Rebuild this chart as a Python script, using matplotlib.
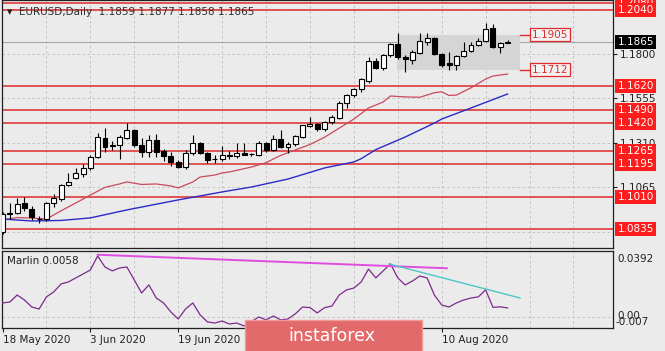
import numpy as np
import matplotlib
matplotlib.use("Agg")
import matplotlib.pyplot as plt
from matplotlib.patches import Rectangle

W, H = 665, 351

# daily EURUSD candles, 18 May 2020 .. 21 Aug 2020
opens = [1.0818, 1.0917, 1.0922, 1.0976, 1.0945, 1.0892, 1.0888, 1.0976, 1.1000, 1.1077,
         1.1118, 1.1135, 1.1171, 1.1231, 1.1336, 1.1290, 1.1297, 1.1336, 1.1380, 1.1297,
         1.1259, 1.1325, 1.1264, 1.1237, 1.1204, 1.1176, 1.1253, 1.1308, 1.1253, 1.1218,
         1.1220, 1.1243, 1.1234, 1.1253, 1.1246, 1.1242, 1.1308, 1.1270, 1.1330, 1.1286,
         1.1303, 1.1341, 1.1402, 1.1413, 1.1385, 1.1424, 1.1446, 1.1527, 1.1572, 1.1604,
         1.1650, 1.1758, 1.1720, 1.1793, 1.1851, 1.1780, 1.1765, 1.1804, 1.1866, 1.1885,
         1.1798, 1.1747, 1.1738, 1.1787, 1.1817, 1.1848, 1.1871, 1.1940, 1.1838, 1.1859]
highs = [1.0926, 1.0976, 1.1003, 1.1010, 1.0960, 1.0905, 1.0985, 1.1028, 1.1085, 1.1143,
         1.1170, 1.1195, 1.1240, 1.1363, 1.1391, 1.1320, 1.1355, 1.1418, 1.1385, 1.1336,
         1.1352, 1.1358, 1.1275, 1.1258, 1.1215, 1.1270, 1.1352, 1.1315, 1.1260, 1.1240,
         1.1292, 1.1265, 1.1308, 1.1308, 1.1255, 1.1318, 1.1316, 1.1352, 1.1380, 1.1315,
         1.1350, 1.1410, 1.1451, 1.1420, 1.1430, 1.1465, 1.1540, 1.1580, 1.1612, 1.1665,
         1.1781, 1.1778, 1.1800, 1.1860, 1.1912, 1.1790, 1.1820, 1.1911, 1.1916, 1.1890,
         1.1805, 1.1810, 1.1795, 1.1866, 1.1866, 1.1885, 1.1966, 1.1962, 1.1866, 1.1877]
lows = [1.0807, 1.0888, 1.0915, 1.0935, 1.0885, 1.0868, 1.0880, 1.0955, 1.0990, 1.1070,
        1.1110, 1.1120, 1.1160, 1.1225, 1.1260, 1.1270, 1.1220, 1.1330, 1.1285, 1.1231,
        1.1231, 1.1231, 1.1210, 1.1182, 1.1168, 1.1165, 1.1242, 1.1245, 1.1200, 1.1200,
        1.1210, 1.1220, 1.1225, 1.1240, 1.1235, 1.1235, 1.1260, 1.1262, 1.1280, 1.1253,
        1.1290, 1.1335, 1.1395, 1.1375, 1.1375, 1.1415, 1.1440, 1.1500, 1.1560, 1.1590,
        1.1640, 1.1715, 1.1710, 1.1780, 1.1769, 1.1700, 1.1743, 1.1798, 1.1848, 1.1795,
        1.1728, 1.1711, 1.1710, 1.1780, 1.1811, 1.1842, 1.1862, 1.1829, 1.1802, 1.1858]
closes = [1.0917, 1.0922, 1.0970, 1.0950, 1.0901, 1.0890, 1.0976, 1.1004, 1.1077, 1.1094,
          1.1143, 1.1171, 1.1231, 1.1341, 1.1286, 1.1297, 1.1341, 1.1380, 1.1297, 1.1259,
          1.1325, 1.1259, 1.1237, 1.1204, 1.1176, 1.1253, 1.1308, 1.1253, 1.1215, 1.1220,
          1.1243, 1.1234, 1.1253, 1.1244, 1.1248, 1.1308, 1.1270, 1.1330, 1.1286, 1.1303,
          1.1347, 1.1407, 1.1413, 1.1385, 1.1424, 1.1451, 1.1528, 1.1572, 1.1604, 1.1659,
          1.1758, 1.1720, 1.1793, 1.1851, 1.1783, 1.1772, 1.1811, 1.1870, 1.1885, 1.1798,
          1.1738, 1.1738, 1.1787, 1.1817, 1.1848, 1.1871, 1.1934, 1.1838, 1.1859, 1.1865]

# moving averages (bar index, value)
red_x = [0, 2, 4, 6, 8, 10, 12, 14, 16, 17, 19, 21, 23, 24, 26, 27, 29, 30, 31, 34,
         36, 38, 40, 42, 44, 46, 48, 50, 52, 53, 55, 57, 59, 60, 61, 62, 64, 66, 67, 69]
red_ma = [1.0885, 1.0898, 1.0895, 1.0890, 1.0935, 1.0978, 1.1022, 1.1064, 1.1083, 1.1094,
          1.1080, 1.1083, 1.1072, 1.1061, 1.1094, 1.1121, 1.1132, 1.1143, 1.1149, 1.1176,
          1.1200, 1.1240, 1.1270, 1.1300, 1.1340, 1.1390, 1.1440, 1.1501, 1.1534, 1.1567,
          1.1562, 1.1560, 1.1585, 1.1590, 1.1570, 1.1572, 1.1612, 1.1660, 1.1677, 1.1688]
blue_x = [0, 4, 8, 12, 17, 24, 30, 34, 39, 44, 48, 49, 51, 55, 59, 60, 64, 69]
blue_ma = [1.0890, 1.0879, 1.0882, 1.0896, 1.0940, 1.0995, 1.1039, 1.1066, 1.1110, 1.1171,
           1.1204, 1.1222, 1.1272, 1.1341, 1.1418, 1.1440, 1.1501, 1.1578]

# Marlin oscillator, one value per bar
marlin = [0.0090, 0.0096, 0.0141, 0.0109, 0.0064, 0.0051, 0.0129, 0.0161, 0.0212, 0.0225,
          0.0251, 0.0276, 0.0302, 0.0392, 0.0321, 0.0296, 0.0315, 0.0321, 0.0238, 0.0154,
          0.0206, 0.0122, 0.0090, 0.0032, -0.0013, 0.0051, 0.0090, 0.0013, -0.0032, -0.0039,
          -0.0026, -0.0045, -0.0039, -0.0058, -0.0030, 0.0000, -0.0019, 0.0006, -0.0019, -0.0013,
          0.0020, 0.0064, 0.0060, 0.0026, 0.0060, 0.0070, 0.0141, 0.0174, 0.0186, 0.0225,
          0.0308, 0.0251, 0.0296, 0.0341, 0.0251, 0.0206, 0.0231, 0.0263, 0.0251, 0.0141,
          0.0077, 0.0064, 0.0090, 0.0109, 0.0122, 0.0129, 0.0174, 0.0062, 0.0065, 0.0058]
magenta_line = ([13, 60.7], [0.0400, 0.0313])
teal_line = ([52.8, 70.7], [0.0341, 0.0122])

levels = [1.2080, 1.2040, 1.1620, 1.1490, 1.1420, 1.1265, 1.1195, 1.1010, 1.0835]
grid_prices = [1.2045, 1.1800, 1.1555, 1.1310, 1.1065, 1.0820]
axis_prices = [1.1800, 1.1555, 1.1310, 1.1065]
last_price = closes[-1]
zone_top, zone_bottom = 1.1905, 1.1712
zone_bars = (53.9, 70.7)

# 7 Jul and 23 Jul sit under the watermark, only their ticks show
date_bars = [0, 12, 24, 36, 48, 60]
date_labels = ["18 May 2020", "3 Jun 2020", "19 Jun 2020", "", "", "10 Aug 2020"]
grid_bars = list(range(6, 84, 6))

osc_labels = ["0.0392", "0.00", "-0.007"]

BG = "#ebebeb"
RED = "#dd2b2b"
BOXRED = "#ff1c1c"
FS = 7


def fx(px):
    return px / W


def fy(py):
    return 1 - py / H


fig = plt.figure(figsize=(W / 100, H / 100), dpi=100, facecolor=BG)

ax1 = fig.add_axes([fx(2), fy(248), 611 / W, 248 / H], facecolor=BG)
ax2 = fig.add_axes([fx(2), fy(328), 611 / W, 77 / H], facecolor=BG)

xlim = (-0.07, 83.4)
ax1.set_xlim(*xlim)
ax1.set_ylim(1.07304, 1.20953)
ax2.set_xlim(*xlim)
ax2.set_ylim(-0.0071, 0.0424)

for ax in (ax1, ax2):
    for s in ax.spines.values():
        s.set_color("#202020")
        s.set_linewidth(0.9)
    for b in grid_bars:
        ax.axvline(b, color="#bdbdbd", lw=0.6, ls=(0, (3, 3)), zorder=0.5)

for p in grid_prices:
    ax1.axhline(p, color="#bdbdbd", lw=0.6, ls=(0, (3, 3)), zorder=0.5)

# current price line
ax1.axhline(last_price, color="#a8a8a8", lw=0.8, zorder=1)

# consolidation zone
ax1.add_patch(Rectangle((zone_bars[0], zone_bottom), zone_bars[1] - zone_bars[0],
                        zone_top - zone_bottom, fc="#d5d5d5", ec="none", zorder=1))
for p in (zone_top, zone_bottom):
    ax1.plot([zone_bars[1], 72.2], [p, p], color=RED, lw=1.0, zorder=2, clip_on=False)
    ax1.text(72.3, p, f"{p:.4f}", fontsize=FS + 0.5, color=RED, ha="left", va="center",
             bbox=dict(boxstyle="square,pad=0.15", fc="#f2f2f2", ec=RED, lw=0.9), zorder=6)

for p in levels:
    ax1.axhline(p, color=RED, lw=1.1, zorder=2)

# moving averages
ax1.plot(red_x, red_ma, color="#c94a5c", lw=0.9, zorder=3)
ax1.plot(blue_x, blue_ma, color="#2b2bc8", lw=1.0, zorder=3)

# candles
o = np.array(opens)
c = np.array(closes)
x = np.arange(len(o))
ax1.vlines(x, lows, highs, color="black", lw=0.8, zorder=4)
body_h = np.maximum(np.abs(c - o), 0.00008)
body_b = np.minimum(o, c)
colors = np.where(c >= o, "white", "black")
ax1.bar(x, body_h, bottom=body_b, width=0.68, color=colors, edgecolor="black",
        linewidth=0.8, zorder=5)

ax1.set_xticks([])
ax1.yaxis.tick_right()
ax1.set_yticks(axis_prices)
ax1.set_yticklabels([f"{p:.4f}" for p in axis_prices])
ax1.tick_params(axis="y", length=3, width=0.8, pad=2, labelsize=FS + 0.5, colors="#202020")

# price labels on the right
ytr = ax1.get_yaxis_transform()
for p in levels:
    ax1.text(1.0075, p, f"{p:.4f}", transform=ytr, fontsize=FS + 0.5, color="white",
             ha="left", va="center", clip_on=False, zorder=7,
             bbox=dict(boxstyle="square,pad=0.2", fc=BOXRED, ec="none"))
ax1.text(1.0075, last_price, f"{last_price:.4f}", transform=ytr, fontsize=FS + 0.5,
         color="white", ha="left", va="center", clip_on=False, zorder=8,
         bbox=dict(boxstyle="square,pad=0.2", fc="black", ec="none"))

# oscillator panel
bars = np.arange(len(marlin))
ax2.axhline(0, color="#bdbdbd", lw=0.6, ls=(0, (3, 3)), zorder=0.5)
ax2.plot(bars, marlin, color="#7c2a8c", lw=0.9, zorder=3)
ax2.plot(*magenta_line, color="#e04ce0", lw=1.4, zorder=4)
ax2.plot(*teal_line, color="#4fc4c4", lw=1.0, zorder=4)
ax2.set_yticks([])
ax2.set_xticks(date_bars)
ax2.set_xticklabels(date_labels)
ax2.tick_params(axis="x", length=3, width=0.8, pad=2, labelsize=FS + 0.5, colors="#202020")
for lbl in ax2.get_xticklabels():
    lbl.set_ha("left")

fig.text(fx(7), fy(261), f"Marlin {marlin[-1]:.4f}", fontsize=FS + 0.5, color="#202020",
         va="center")
fig.text(fx(617), fy(259), osc_labels[0], fontsize=FS + 0.5, color="#202020", va="center")
fig.text(fx(617), fy(316), osc_labels[1], fontsize=FS + 0.5, color="#202020", va="center")
fig.text(fx(616), fy(322), osc_labels[2], fontsize=FS + 0.5, color="#202020", va="center")

# chart header
fig.text(fx(7), fy(12), "\u25bc", fontsize=5, color="#202020", va="center")
fig.text(fx(19), fy(12),
         f"EURUSD,Daily  {opens[-1]:.4f} {highs[-1]:.4f} {lows[-1]:.4f} {closes[-1]:.4f}",
         fontsize=FS + 0.5, color="#303030", va="center")

# watermark
fig.patches.append(Rectangle((fx(245), fy(352)), 177 / W, 32 / H, transform=fig.transFigure,
                             fc="#e36a6a", ec="#f09a9a", lw=1.0, zorder=10))
fig.text(fx(332), fy(336), "instaforex", fontsize=12.5, color="white", ha="center",
         va="center", zorder=11)

fig.savefig("out.png", dpi=100, facecolor=BG)
